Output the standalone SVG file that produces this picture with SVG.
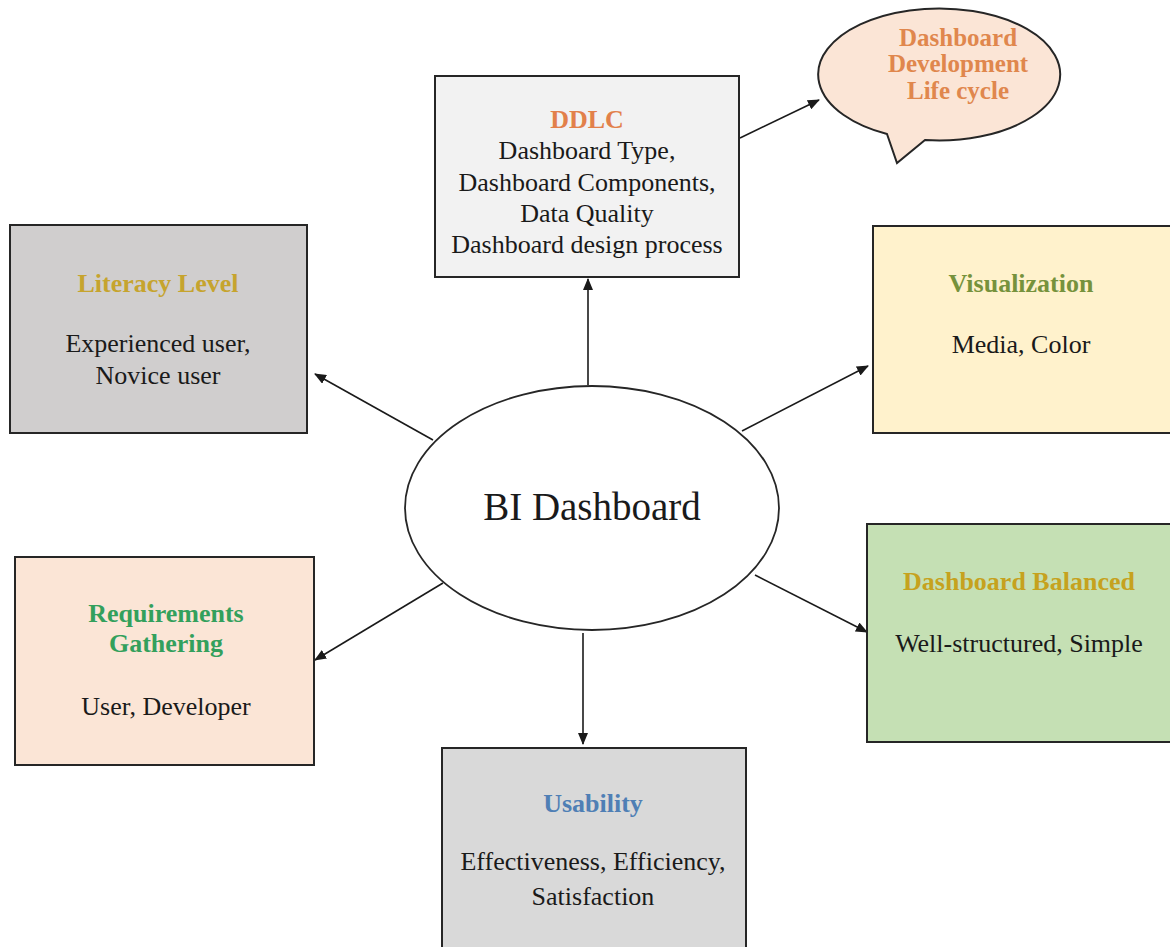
<svg xmlns="http://www.w3.org/2000/svg" width="1170" height="947" viewBox="0 0 1170 947">
  <style>
    .box { stroke: #262626; stroke-width: 2; }
    .txt { font-family: "Times New Roman", "Liberation Serif", Tinos, "DejaVu Serif", serif; font-size: 26px; fill: #1a1a1a; text-anchor: middle; }
    .ttl { font-weight: bold; }
    .conn { stroke: #1a1a1a; stroke-width: 1.6; fill: none; marker-end: url(#arrow); }
  </style>
  <defs>
    <marker id="arrow" markerUnits="userSpaceOnUse" markerWidth="12" markerHeight="10" refX="11" refY="5" orient="auto">
      <path d="M0,0 L12,5 L0,10 z" fill="#1a1a1a"/>
    </marker>
  </defs>
  <rect width="1170" height="947" fill="#ffffff"/>

  <g id="connectors">
    <line class="conn" x1="588" y1="385" x2="588" y2="279"/>
    <line class="conn" x1="740" y1="138" x2="819" y2="100"/>
    <line class="conn" x1="433" y1="440" x2="315" y2="374"/>
    <line class="conn" x1="742" y1="431" x2="868" y2="366"/>
    <line class="conn" x1="755" y1="575" x2="867" y2="632"/>
    <line class="conn" x1="443" y1="583" x2="315" y2="660"/>
    <line class="conn" x1="583" y1="633" x2="583" y2="744"/>
  </g>

  <g id="bi-dashboard">
    <ellipse cx="592" cy="508" rx="187" ry="122" fill="#ffffff" stroke="#262626" stroke-width="1.8"/>
    <text class="txt" x="592" y="520" style="font-size:39px">BI Dashboard</text>
  </g>

  <g id="ddlc">
    <rect class="box" x="435" y="76" width="304" height="201" fill="#f2f2f2"/>
    <text class="txt ttl" x="587" y="128" style="fill:#e2804a">DDLC</text>
    <text class="txt" x="587" y="159">Dashboard Type,</text>
    <text class="txt" x="587" y="191">Dashboard Components,</text>
    <text class="txt" x="587" y="222">Data Quality</text>
    <text class="txt" x="587" y="253">Dashboard design process</text>
  </g>

  <g id="ddlc-callout">
    <path d="M887,134 A121,66 0 1 1 925,140 L897,163 Z" fill="#fbe5d6" stroke="#262626" stroke-width="2"/>
    <text class="txt ttl" x="958" y="46" style="fill:#e0874d;font-size:25px">Dashboard</text>
    <text class="txt ttl" x="958" y="72" style="fill:#e0874d;font-size:25px">Development</text>
    <text class="txt ttl" x="958" y="99" style="fill:#e0874d;font-size:25px">Life cycle</text>
  </g>

  <g id="literacy-level">
    <rect class="box" x="10" y="225" width="297" height="208" fill="#d0cece"/>
    <text class="txt ttl" x="158" y="292" style="fill:#c6a42e">Literacy Level</text>
    <text class="txt" x="158" y="352">Experienced user,</text>
    <text class="txt" x="158" y="384">Novice user</text>
  </g>

  <g id="visualization">
    <rect class="box" x="873" y="226" width="310" height="207" fill="#fff2cc"/>
    <text class="txt ttl" x="1021" y="292" style="fill:#76923c">Visualization</text>
    <text class="txt" x="1021" y="353">Media, Color</text>
  </g>

  <g id="dashboard-balanced">
    <rect class="box" x="867" y="524" width="316" height="218" fill="#c5e0b4"/>
    <text class="txt ttl" x="1019" y="590" style="fill:#c6a21e">Dashboard Balanced</text>
    <text class="txt" x="1019" y="652">Well-structured, Simple</text>
  </g>

  <g id="requirements-gathering">
    <rect class="box" x="15" y="557" width="299" height="208" fill="#fbe5d6"/>
    <text class="txt ttl" x="166" y="622" style="fill:#33a05c">Requirements</text>
    <text class="txt ttl" x="166" y="652" style="fill:#33a05c">Gathering</text>
    <text class="txt" x="166" y="715">User, Developer</text>
  </g>

  <g id="usability">
    <rect class="box" x="442" y="748" width="304" height="215" fill="#d9d9d9"/>
    <text class="txt ttl" x="593" y="812" style="fill:#4f7fb5">Usability</text>
    <text class="txt" x="593" y="870">Effectiveness, Efficiency,</text>
    <text class="txt" x="593" y="905">Satisfaction</text>
  </g>
</svg>
